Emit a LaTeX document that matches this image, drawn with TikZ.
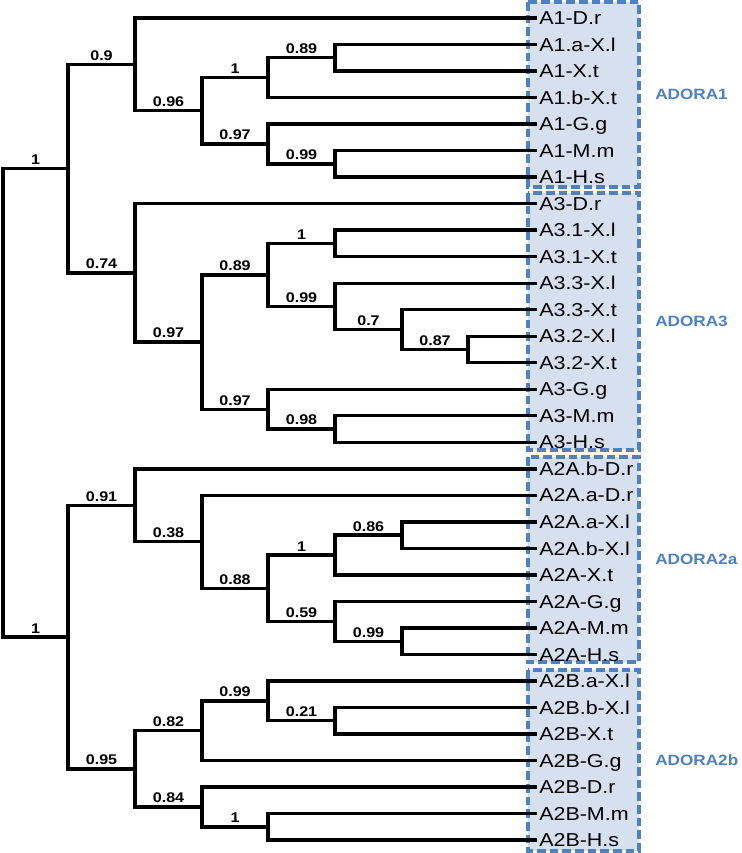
\documentclass[tikz,border=0pt]{standalone}
\usepackage{fontspec}
\newfontfamily\treefont{Liberation Sans}[FakeStretch=1.15]
\definecolor{steel}{RGB}{79,129,189}
\definecolor{mist}{RGB}{214,224,238}
\tikzset{
  branch/.style={draw=black,line width=2.5pt},
  supp/.style={anchor=south,pos=0.75,inner sep=1.7pt,
    font=\treefont\bfseries\fontsize{10.5}{12}\selectfont},
  leaf/.style={anchor=west,inner sep=1.5pt,text height=9.9pt,text depth=0pt,
    font=\treefont\fontsize{14}{16}\selectfont},
  clade/.style={draw=steel,fill=mist,line width=2.5pt,dash pattern=on 6.5pt off 3pt},
  group/.style={anchor=west,inner sep=0pt,text=steel,
    font=\treefont\bfseries\fontsize{11.2}{13}\selectfont},
}

\begin{document}
\begin{tikzpicture}[x=0.75pt,y=-19.89pt]
  \useasboundingbox (0,-0.6787) rectangle (742,31.4857);
  % clade boxes
  \draw[clade] (528,-0.60) rectangle (639,6.37);
  \draw[clade] (528,6.60) rectangle (639,16.29);
  \draw[clade] (528,16.55) rectangle (639,24.28);
  \draw[clade] (528,24.59) rectangle (639,31.41);
  \node[group] (g1) at (655,2.88) {ADORA1};
  \node[group] (g3) at (655,11.45) {ADORA3};
  \node[group] (g2a) at (655,20.42) {ADORA2a};
  \node[group] (g2b) at (655,28.0) {ADORA2b};
  % leaves
  \foreach \lab [count=\i from 0] in {A1-D.r,A1.a-X.l,A1-X.t,A1.b-X.t,A1-G.g,A1-M.m,A1-H.s,
    A3-D.r,A3.1-X.l,A3.1-X.t,A3.3-X.l,A3.3-X.t,A3.2-X.l,A3.2-X.t,A3-G.g,A3-M.m,A3-H.s,
    A2A.b-D.r,A2A.a-D.r,A2A.a-X.l,A2A.b-X.l,A2A-X.t,A2A-G.g,A2A-M.m,A2A-H.s,
    A2B.a-X.l,A2B.b-X.l,A2B-X.t,A2B-G.g,A2B-D.r,A2B-M.m,A2B-H.s}
    \node[leaf] (l\i) at (537,\i) {\lab};
  % inner nodes (x in px, y in leaf rows)
  \coordinate (root) at (3,14.51);
  \coordinate (top) at (68,5.6797);
  \coordinate (bot) at (68,23.3438);
  \coordinate (a1) at (135,1.75);
  \coordinate (a1b) at (202,3.5);
  \coordinate (a1c) at (268,2.25);
  \coordinate (a1d) at (335,1.5);
  \coordinate (a1e) at (268,4.75);
  \coordinate (a1f) at (335,5.5);
  \coordinate (a3) at (135,9.6094);
  \coordinate (a3b) at (202,12.2188);
  \coordinate (a3c) at (268,9.6875);
  \coordinate (a3d) at (335,8.5);
  \coordinate (a3e) at (335,10.875);
  \coordinate (a3f) at (402,11.75);
  \coordinate (a3g) at (468,12.5);
  \coordinate (a3h) at (268,14.75);
  \coordinate (a3i) at (335,15.5);
  \coordinate (a2a) at (135,18.375);
  \coordinate (a2ab) at (202,19.75);
  \coordinate (a2ac) at (268,21.5);
  \coordinate (a2ad) at (335,20.25);
  \coordinate (a2ae) at (402,19.5);
  \coordinate (a2af) at (335,22.75);
  \coordinate (a2ag) at (402,23.5);
  \coordinate (a2b) at (135,28.3125);
  \coordinate (a2bb) at (202,26.875);
  \coordinate (a2bc) at (268,25.75);
  \coordinate (a2bd) at (335,26.5);
  \coordinate (a2be) at (202,29.75);
  \coordinate (a2bf) at (268,30.5);
  % root and halves
  \draw[branch] (root) |- node[supp]{1} (top);
  \draw[branch] (root) |- node[supp]{1} (bot);
  \draw[branch] (top) |- node[supp]{0.9} (a1);
  \draw[branch] (top) |- node[supp]{0.74} (a3);
  \draw[branch] (bot) |- node[supp]{0.91} (a2a);
  \draw[branch] (bot) |- node[supp]{0.95} (a2b);
  % ADORA1
  \draw[branch] (a1) |- (l0.west);
  \draw[branch] (a1) |- node[supp]{0.96} (a1b);
  \draw[branch] (a1b) |- node[supp]{1} (a1c);
  \draw[branch] (a1b) |- node[supp]{0.97} (a1e);
  \draw[branch] (a1c) |- node[supp]{0.89} (a1d);
  \draw[branch] (a1c) |- (l3.west);
  \draw[branch] (a1d) |- (l1.west);
  \draw[branch] (a1d) |- (l2.west);
  \draw[branch] (a1e) |- (l4.west);
  \draw[branch] (a1e) |- node[supp]{0.99} (a1f);
  \draw[branch] (a1f) |- (l5.west);
  \draw[branch] (a1f) |- (l6.west);
  % ADORA3
  \draw[branch] (a3) |- (l7.west);
  \draw[branch] (a3) |- node[supp]{0.97} (a3b);
  \draw[branch] (a3b) |- node[supp]{0.89} (a3c);
  \draw[branch] (a3b) |- node[supp]{0.97} (a3h);
  \draw[branch] (a3c) |- node[supp]{1} (a3d);
  \draw[branch] (a3c) |- node[supp]{0.99} (a3e);
  \draw[branch] (a3d) |- (l8.west);
  \draw[branch] (a3d) |- (l9.west);
  \draw[branch] (a3e) |- (l10.west);
  \draw[branch] (a3e) |- node[supp]{0.7} (a3f);
  \draw[branch] (a3f) |- (l11.west);
  \draw[branch] (a3f) |- node[supp]{0.87} (a3g);
  \draw[branch] (a3g) |- (l12.west);
  \draw[branch] (a3g) |- (l13.west);
  \draw[branch] (a3h) |- (l14.west);
  \draw[branch] (a3h) |- node[supp]{0.98} (a3i);
  \draw[branch] (a3i) |- (l15.west);
  \draw[branch] (a3i) |- (l16.west);
  % ADORA2a
  \draw[branch] (a2a) |- (l17.west);
  \draw[branch] (a2a) |- node[supp]{0.38} (a2ab);
  \draw[branch] (a2ab) |- (l18.west);
  \draw[branch] (a2ab) |- node[supp]{0.88} (a2ac);
  \draw[branch] (a2ac) |- node[supp]{1} (a2ad);
  \draw[branch] (a2ac) |- node[supp]{0.59} (a2af);
  \draw[branch] (a2ad) |- node[supp]{0.86} (a2ae);
  \draw[branch] (a2ad) |- (l21.west);
  \draw[branch] (a2ae) |- (l19.west);
  \draw[branch] (a2ae) |- (l20.west);
  \draw[branch] (a2af) |- (l22.west);
  \draw[branch] (a2af) |- node[supp]{0.99} (a2ag);
  \draw[branch] (a2ag) |- (l23.west);
  \draw[branch] (a2ag) |- (l24.west);
  % ADORA2b
  \draw[branch] (a2b) |- node[supp]{0.82} (a2bb);
  \draw[branch] (a2b) |- node[supp]{0.84} (a2be);
  \draw[branch] (a2bb) |- node[supp]{0.99} (a2bc);
  \draw[branch] (a2bb) |- (l28.west);
  \draw[branch] (a2bc) |- (l25.west);
  \draw[branch] (a2bc) |- node[supp]{0.21} (a2bd);
  \draw[branch] (a2bd) |- (l26.west);
  \draw[branch] (a2bd) |- (l27.west);
  \draw[branch] (a2be) |- (l29.west);
  \draw[branch] (a2be) |- node[supp]{1} (a2bf);
  \draw[branch] (a2bf) |- (l30.west);
  \draw[branch] (a2bf) |- (l31.west);
\end{tikzpicture}
\end{document}
